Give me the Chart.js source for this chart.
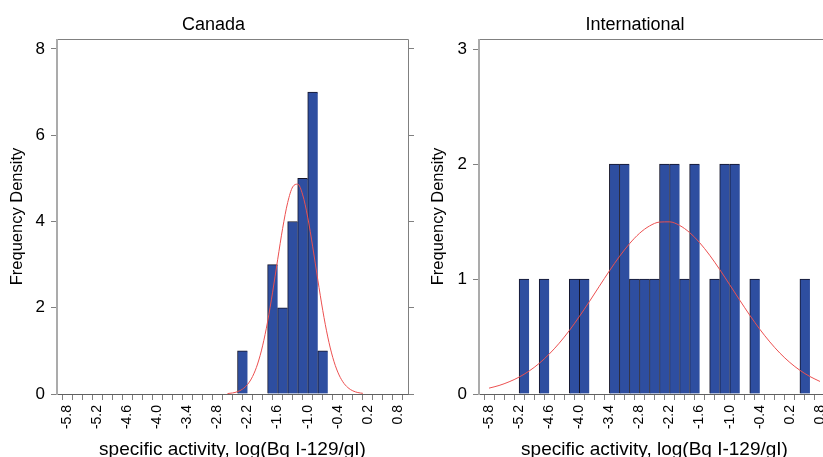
<!DOCTYPE html>
<html><head><meta charset="utf-8">
<script src="https://cdn.jsdelivr.net/npm/chart.js@4.4.1/dist/chart.umd.min.js"></script>
<style>
html,body{margin:0;padding:0;background:#fff;width:823px;height:457px;overflow:hidden;}
#wrap{position:relative;width:823px;height:457px;overflow:hidden;}
canvas{position:absolute;top:0;}
#c1{left:0;}
#c2{left:416px;}
</style></head><body>
<div id="wrap">
<canvas id="c1" width="427" height="457"></canvas>
<canvas id="c2" width="438" height="457"></canvas>
</div>
<script>
// ---------- data ----------
const BIN_WIDTH = 0.2;
const xTickLabels = ['-5.8','-5.2','-4.6','-4.0','-3.4','-2.8','-2.2','-1.6','-1.0','-0.4','0.2','0.8'];

const canadaBinStart = [-2.4, -1.8, -1.6, -1.4, -1.2, -1.0, -0.8];
const canadaCounts   = [1, 3, 2, 4, 5, 7, 1];

const intlBinStart = [-5.2, -4.8, -4.2, -4.0, -3.4, -3.2, -3.0, -2.8, -2.6, -2.4, -2.2, -2.0, -1.8, -1.4, -1.2, -1.0, -0.6, 0.4];
const intlCounts   = [1, 1, 1, 1, 2, 2, 1, 1, 1, 2, 2, 1, 2, 1, 2, 2, 1, 1];

const canadaCurveX = [-2.6,-2.5,-2.4,-2.3,-2.2,-2.1,-2.0,-1.9,-1.8,-1.7,-1.6,-1.5,-1.4,-1.3,-1.2,-1.1,-1.0,-0.9,-0.8,-0.7,-0.6,-0.5,-0.4,-0.3,-0.2,-0.1,0.0,0.1];
const canadaCurveY = [0.010,0.024,0.054,0.113,0.221,0.405,0.695,1.116,1.677,2.361,3.111,3.840,4.437,4.800,4.865,4.616,4.100,3.410,2.657,1.939,1.323,0.846,0.507,0.284,0.149,0.073,0.034,0.015];

const intlCurveX = [-5.8,-5.6,-5.4,-5.2,-5.0,-4.8,-4.6,-4.4,-4.2,-4.0,-3.8,-3.6,-3.4,-3.2,-3.0,-2.8,-2.6,-2.4,-2.2,-2.0,-1.8,-1.6,-1.4,-1.2,-1.0,-0.8,-0.6,-0.4,-0.2,0.0,0.2,0.4,0.6,0.8];
const intlCurveY = [0.051,0.074,0.106,0.147,0.200,0.266,0.347,0.442,0.551,0.673,0.803,0.937,1.070,1.195,1.306,1.397,1.461,1.495,1.497,1.466,1.404,1.316,1.207,1.083,0.950,0.816,0.685,0.563,0.453,0.356,0.274,0.206,0.152,0.109];

const canadaYTicks = [0, 2, 4, 6, 8];
const intlYTicks   = [0, 1, 2, 3];

// ---------- styles ----------
const FONT = "'Liberation Sans', Arial, Helvetica, sans-serif";
const BAR_FILL = '#2e4ea0';
const BAR_EDGE = '#141428';
const CURVE = 'rgb(236,80,80)';
const AXIS_GRAY = '#808080';
const MINOR_STEP = 0.2;

Chart.defaults.font.family = FONT;
Chart.defaults.color = '#000';

const framePlugin = {
  id: 'frame',
  afterDatasetsDraw(chart) {
    const {ctx, chartArea: a} = chart;
    ctx.save();
    ctx.lineWidth = 1;
    ctx.strokeStyle = AXIS_GRAY;
    ctx.beginPath();
    ctx.moveTo(a.left, a.top + 0.5); ctx.lineTo(a.right + 0.5, a.top + 0.5);
    ctx.lineTo(a.right + 0.5, a.bottom + 0.5);
    ctx.stroke();
    ctx.strokeStyle = '#606060';
    ctx.beginPath();
    ctx.moveTo(a.left, a.bottom + 0.5); ctx.lineTo(a.right + 0.5, a.bottom + 0.5);
    ctx.stroke();
    ctx.strokeStyle = '#ababab';
    ctx.lineWidth = 2;
    ctx.beginPath();
    ctx.moveTo(a.left, a.top); ctx.lineTo(a.left, a.bottom + 1);
    ctx.stroke();
    ctx.restore();
  }
};

function makeChart(id, cfg) {
  const xScale = {
    type: 'linear', min: -6.0, max: 1.0, offset: false,
    afterBuildTicks(scale) {
      const n = Math.round((scale.max - scale.min) / MINOR_STEP);
      const out = [];
      for (let k = 0; k <= n; k++) out.push({value: +(scale.min + k * MINOR_STEP).toFixed(1)});
      scale.ticks = out;
    },
    afterFit(scale) { scale.height = 63; },
    ticks: {
      autoSkip: false, minRotation: 90, maxRotation: 90, padding: 5,
      font: {size: 14, lineHeight: 1},
      callback(v) { const s = (+v).toFixed(1); return xTickLabels.includes(s) ? s : ''; }
    },
    grid: {drawOnChartArea: false, drawTicks: true, tickLength: 6, color: AXIS_GRAY},
    border: {display: false},
    title: {display: true, text: 'specific activity, log(Bq I-129/gI)', font: {size: 19}, padding: {top: 0, bottom: -4.4}}
  };
  const yTickFn = (scale) => { scale.ticks = cfg.yTicks.map(v => ({value: v})); };
  const yScale = {
    type: 'linear', position: 'left', min: 0, max: cfg.yMax,
    afterBuildTicks: yTickFn,
    afterFit(scale) { scale.width = cfg.yWidth; },
    ticks: {font: {size: 17}, padding: 6},
    grid: {drawOnChartArea: false, drawTicks: true, tickLength: 6, color: AXIS_GRAY},
    border: {display: false},
    title: {display: true, text: 'Frequency Density', font: {size: 16.5}, padding: {top: cfg.yTitlePad, bottom: 0}}
  };
  const y2Scale = {
    type: 'linear', position: 'right', min: 0, max: cfg.yMax,
    afterBuildTicks: yTickFn,
    afterFit(scale) { scale.width = cfg.y2Width; },
    ticks: {display: false},
    grid: {drawOnChartArea: false, drawTicks: true, tickLength: 6, color: AXIS_GRAY},
    border: {display: false}
  };
  return new Chart(document.getElementById(id), {
    type: 'bar',
    data: {
      datasets: [
        {
          type: 'line', order: 0,
          data: cfg.curveX.map((x, i) => ({x: x, y: cfg.curveY[i]})),
          borderColor: CURVE, borderWidth: 1, pointRadius: 0, fill: false,
          cubicInterpolationMode: 'monotone'
        },
        {
          type: 'bar', order: 1,
          data: cfg.binStart.map((s, i) => ({x: s + BIN_WIDTH / 2, y: cfg.counts[i]})),
          backgroundColor: BAR_FILL, borderColor: BAR_EDGE,
          borderWidth: {left: 1, top: 1, right: 0, bottom: 0},
          barPercentage: 1, categoryPercentage: 1
        }
      ]
    },
    options: {
      responsive: false, animation: false,
      layout: {padding: 0},
      plugins: {
        legend: {display: false}, tooltip: {enabled: false},
        title: {display: true, text: cfg.title, font: {size: 18, weight: 'normal'}, color: '#000', padding: {top: 14, bottom: 3.4}}
      },
      scales: {x: xScale, y: yScale, y2: y2Scale}
    },
    plugins: [framePlugin]
  });
}

makeChart('c1', {
  title: 'Canada', binStart: canadaBinStart, counts: canadaCounts,
  curveX: canadaCurveX, curveY: canadaCurveY,
  yTicks: canadaYTicks, yMax: 8.23, yWidth: 57, y2Width: 19, yTitlePad: 8
});
makeChart('c2', {
  title: 'International', binStart: intlBinStart, counts: intlCounts,
  curveX: intlCurveX, curveY: intlCurveY,
  yTicks: intlYTicks, yMax: 3.087, yWidth: 63, y2Width: 24, yTitlePad: 12.6
});
</script>
</body></html>
